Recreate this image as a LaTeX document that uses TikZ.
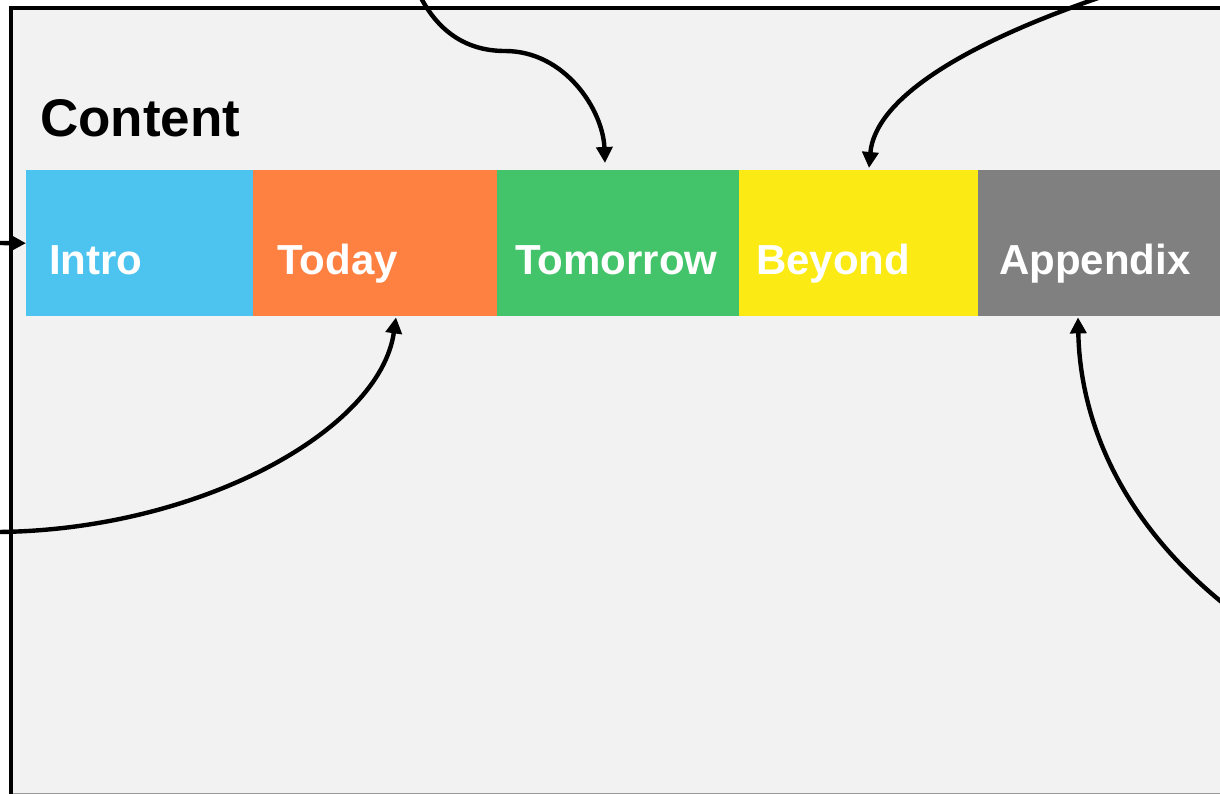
\documentclass[tikz,border=0pt]{standalone}
\usepackage{fontspec}
\setmainfont{Liberation Sans}
\usetikzlibrary{arrows.meta}
\definecolor{panelbg}{HTML}{F2F2F2}
\definecolor{cIntro}{HTML}{4DC3F0}
\definecolor{cToday}{HTML}{FF8142}
\definecolor{cTomorrow}{HTML}{44C46A}
\definecolor{cBeyond}{HTML}{FBEA14}
\definecolor{cAppendix}{HTML}{808080}
\tikzset{
  bar/.style={rectangle, inner sep=0pt, minimum height=146pt, anchor=north west, draw=none},
  barlabel/.style={anchor=base west, inner sep=0pt, text=white, font=\bfseries\fontsize{42}{42}\selectfont},
  conn/.style={line width=4.4pt, -{Triangle[length=16pt,width=16pt]}},
}
\begin{document}
\begin{tikzpicture}[x=1pt,y=-1pt]
\useasboundingbox (0,0) rectangle (1220,794);
\clip (0,0) rectangle (1220,794);
\fill[white] (0,0) rectangle (1220,794);
% panel
\fill[panelbg] (11,8) rectangle (1240,800);
\draw[line width=1.2pt, gray!80] (11,793.6) -- (1240,793.6);
\draw[line width=4.6pt] (11,800) -- (11,8) -- (1240,8);
% title
\node[anchor=base west, inner sep=0pt, font=\bfseries\fontsize{53}{53}\selectfont] (title) at (40,137) {Content};
% bars
\node[bar, fill=cIntro, minimum width=227pt] (intro) at (26,170) {};
\node[bar, fill=cToday, minimum width=244pt] (today) at (253,170) {};
\node[bar, fill=cTomorrow, minimum width=242pt] (tomorrow) at (497,170) {};
\node[bar, fill=cBeyond, minimum width=239pt] (beyond) at (739,170) {};
\node[bar, fill=cAppendix, minimum width=260pt] (appendix) at (978,170) {};
% labels
\node[barlabel] (introt) at (49,275) {Intro};
\node[barlabel] (todayt) at (277,275) {Today};
\node[barlabel] (tomorrowt) at (515,275) {Tomorrow};
\node[barlabel] (beyondt) at (756,275) {Beyond};
\node[barlabel] (appendixt) at (999,275) {Appendix};
% free ends
\coordinate (sIntro) at (-4,243);
\coordinate (sToday) at (-2,532);
\coordinate (sTomorrow) at (420,-4);
\coordinate (sBeyond) at (1104,-4);
\coordinate (sAppendix) at (1224,604);
% connectors
\draw[conn] (sIntro) -- (intro.west);
\draw[conn] (sToday) .. controls (200,530) and (380,430) .. ([xshift=143pt,yshift=-1pt]today.south west);
\draw[conn] (sTomorrow) .. controls (440,35) and (470,51) .. (505,51) .. controls (565,51) and (603,110) .. ([xshift=108pt,yshift=7pt]tomorrow.north west);
\draw[conn] (sBeyond) .. controls (960,45) and (875,100) .. ([xshift=130pt,yshift=2pt]beyond.north west);
\draw[conn] (sAppendix) .. controls (1120,520) and (1080,420) .. ([xshift=100pt,yshift=-1pt]appendix.south west);
\end{tikzpicture}
\end{document}
